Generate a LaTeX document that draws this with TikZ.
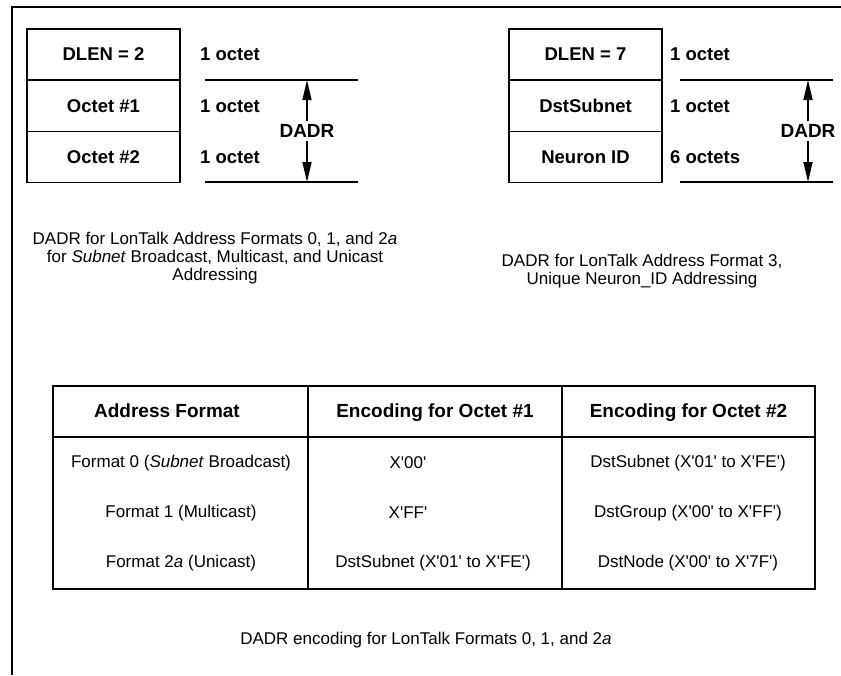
\documentclass[tikz,border=0pt]{standalone}
\usepackage{fontspec}
\setmainfont{Liberation Sans}
\usetikzlibrary{arrows.meta}

\newcommand{\tq}{\textquotesingle}

\begin{document}
\begin{tikzpicture}[x=1pt,y=-1pt,
        field/.style={draw, line width=1.4pt, minimum width=153pt, minimum height=51pt, inner sep=0pt, font=\fontsize{18.5}{20}\selectfont\bfseries},
        size/.style={anchor=west, inner sep=0pt, font=\fontsize{18.5}{20}\selectfont\bfseries},
        span/.style={font=\fontsize{19}{20}\selectfont\bfseries, inner sep=3pt},
        rule/.style={line width=1.2pt},
        dadr/.style={-{Triangle[length=20pt,width=9pt]}, line width=1.3pt},
        caption/.style={align=center, font=\fontsize{17}{18}\selectfont},
        head/.style={anchor=base, font=\fontsize{19}{20}\selectfont\bfseries},
        cell/.style={font=\fontsize{17}{20}\selectfont}]
                \newcommand{\leftx}{103.5}
                \newcommand{\rightx}{585.5}

                \useasboundingbox (0,0) rectangle (841,675);

                % Draw frame
                \draw[line width=2.6pt] (841,7) -- (12,7) -- (12,675);

                % Draw left field stack
                \node[field] (ldlen) at (\leftx,54.5) {DLEN = 2};
                \node[field] (loct1) at (\leftx,106) {Octet \#1};
                \node[field] (loct2) at (\leftx,157) {Octet \#2};
                \node[size] (lsize0) at (200,54.5) {1 octet};
                \node[size] (lsize1) at (200,106) {1 octet};
                \node[size] (lsize2) at (200,157) {1 octet};

                % Draw left DADR span
                \coordinate (ltopa) at (205,80);
                \coordinate (ltopb) at (358,80);
                \coordinate (lbota) at (205,182);
                \coordinate (lbotb) at (358,182);
                \draw[rule] (ltopa) -- (ltopb);
                \draw[rule] (lbota) -- (lbotb);
                \node[span] (ldadr) at (307,131) {DADR};
                \draw[dadr] (ldadr.north) -- (ldadr.north |- ltopa);
                \draw[dadr] (ldadr.south) -- (ldadr.south |- lbota);

                % Draw right field stack
                \node[field] (rdlen) at (\rightx,54.5) {DLEN = 7};
                \node[field] (rsub) at (\rightx,106) {DstSubnet};
                \node[field] (rnid) at (\rightx,157) {Neuron ID};
                \node[size] (rsize0) at (670,54.5) {1 octet};
                \node[size] (rsize1) at (670,106) {1 octet};
                \node[size] (rsize2) at (670,157) {6 octets};

                % Draw right DADR span
                \coordinate (rtopa) at (680,80);
                \coordinate (rtopb) at (833,80);
                \coordinate (rbota) at (680,182);
                \coordinate (rbotb) at (833,182);
                \draw[rule] (rtopa) -- (rtopb);
                \draw[rule] (rbota) -- (rbotb);
                \node[span] (rdadr) at (808,131) {DADR};
                \draw[dadr] (rdadr.north) -- (rdadr.north |- rtopa);
                \draw[dadr] (rdadr.south) -- (rdadr.south |- rbota);

                % Captions
                \node[caption] (lcap) at (215,258) {DADR for LonTalk Address Formats 0, 1, and 2\textit{a}\\
                    for \textit{Subnet} Broadcast, Multicast, and Unicast\\ Addressing};
                \node[caption] (rcap) at (642,271) {DADR for LonTalk Address Format 3,\\ Unique Neuron\_ID Addressing};

                % Draw table grid
                \draw[line width=1.6pt] (53,386) rectangle (815,589);
                \draw[line width=1.6pt] (53,437) -- (815,437);
                \foreach \x in {308,562} {
                    \draw[line width=1.4pt] (\x,386) -- (\x,589);
                }

                % Table header
                \node[head] (hfmt) at (167,417) {Address Format};
                \node[head] (hoct1) at (435,417) {Encoding for Octet \#1};
                \node[head] (hoct2) at (688.5,417) {Encoding for Octet \#2};

                % Table rows
                \node[cell] (fmt0) at (181,463) {Format 0 (\textit{Subnet} Broadcast)};
                \node[cell] (fmt1) at (181,513) {Format 1 (Multicast)};
                \node[cell] (fmt2) at (181,563) {Format 2\textit{a} (Unicast)};
                \node[cell] (enc0a) at (408,463) {X\tq 00\tq};
                \node[cell] (enc1a) at (408,513) {X\tq FF\tq};
                \node[cell] (enc2a) at (433,563) {DstSubnet (X\tq 01\tq{} to X\tq FE\tq)};
                \node[cell] (enc0b) at (688,463) {DstSubnet (X\tq 01\tq{} to X\tq FE\tq)};
                \node[cell] (enc1b) at (688,513) {DstGroup (X\tq 00\tq{} to X\tq FF\tq)};
                \node[cell] (enc2b) at (688,563) {DstNode (X\tq 00\tq{} to X\tq 7F\tq)};

                \node[caption] (bcap) at (426,640) {DADR encoding for LonTalk Formats 0, 1, and 2\textit{a}};
            \end{tikzpicture}
\end{document}
